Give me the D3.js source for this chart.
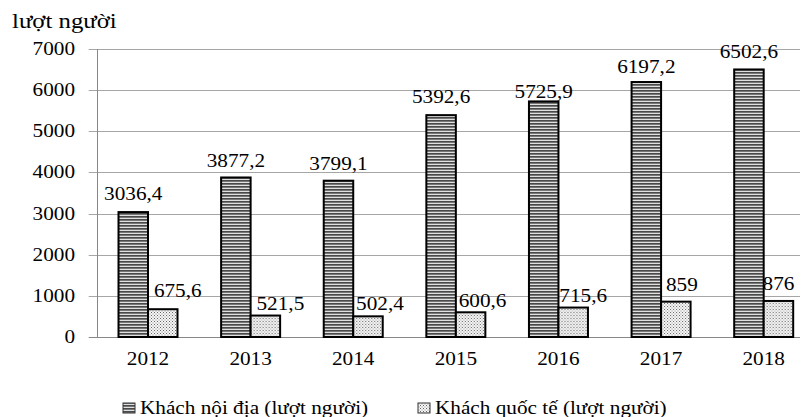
<!DOCTYPE html>
<html>
<head>
<meta charset="utf-8">
<script src="https://cdn.jsdelivr.net/npm/d3@7"></script>
<style>
  body { margin: 0; background: #fff; }
  svg { display: block; font-family: "Liberation Serif", "Times New Roman", serif; }
</style>
</head>
<body>
<div id="viscontainer"></div>
<script>
const years = ["2012", "2013", "2014", "2015", "2016", "2017", "2018"];
const domestic = [3036.4, 3877.2, 3799.1, 5392.6, 5725.9, 6197.2, 6502.6];
const international = [675.6, 521.5, 502.4, 600.6, 715.6, 859, 876];
const yTicks = [0, 1000, 2000, 3000, 4000, 5000, 6000, 7000];
const seriesNames = ["Khách nội địa (lượt người)", "Khách quốc tế (lượt người)"];
const yTitle = "lượt người";

// label nudges as placed in the original (px)
const domLabelGap = [12, 10.5, 10.7, 12, 3.5, 9, 11.5];
const intLabelGap = [12, 5.5, 6, 5, 5.5, 10.7, 11];
const intLabelDx = [15, 15, 12, 12, 10, 6, 0];

const width = 805;
const height = 417;
const marginLeft = 96.7;
const plotRight = 815;
const marginTop = 49;
const baseY = 337;
const fontSize = 18;
const stretch = 1.18;

const fmt = (v) => String(v).replace(".", ",");

const svg = d3.create("svg").attr("width", width).attr("height", height);
viscontainer.append(svg.node());

const defs = svg.append("defs");
const stripes = defs.append("pattern").attr("id", "stripes")
  .attr("patternUnits", "userSpaceOnUse").attr("width", 4).attr("height", 3);
stripes.append("rect").attr("width", 4).attr("height", 3).attr("fill", "#e0e0e0");
stripes.append("rect").attr("width", 4).attr("height", 1.7).attr("fill", "#4a4a4a");

const dots = defs.append("pattern").attr("id", "dots")
  .attr("patternUnits", "userSpaceOnUse").attr("width", 3).attr("height", 3);
dots.append("rect").attr("width", 3).attr("height", 3).attr("fill", "#f6f6f6");
dots.append("rect").attr("width", 1).attr("height", 1).attr("fill", "#666");
dots.append("rect").attr("x", 1.5).attr("y", 1.5).attr("width", 1).attr("height", 1).attr("fill", "#888");

const fills = ["url(#stripes)", "url(#dots)"];

const xScale = d3.scaleBand().domain(years).range([marginLeft, plotRight]);
const xInner = d3.scaleBand().domain([0, 1]).range([-29.5, 29.5]);
const yScale = d3.scaleLinear().domain([0, 7000]).range([baseY, marginTop]);

const addText = (g, x, y, str, anchor, size = fontSize, sx = stretch) =>
  g.append("text")
    .attr("transform", `translate(${x},${y}) scale(${sx},1)`)
    .attr("text-anchor", anchor)
    .attr("font-size", size)
    .attr("fill", "#000")
    .text(str);

// gridlines + y ticks
const grid = svg.append("g");
grid.selectAll("line").data(yTicks).join("line")
  .attr("x1", marginLeft - 8).attr("x2", 800)
  .attr("y1", (d) => Math.round(yScale(d)) + 0.5)
  .attr("y2", (d) => Math.round(yScale(d)) + 0.5)
  .attr("stroke", (d) => (d === 0 ? "#888" : "#a6a6a6"))
  .attr("stroke-width", 1);

svg.append("line")
  .attr("x1", Math.round(marginLeft) + 0.5).attr("x2", Math.round(marginLeft) + 0.5)
  .attr("y1", yScale(7000)).attr("y2", baseY)
  .attr("stroke", "#888");

const yLabels = svg.append("g");
yTicks.forEach((t) => addText(yLabels, 75, yScale(t) + 6, String(t), "end"));

addText(svg, 12, 28, yTitle, "start", 20, 1.24);

// bars
const groups = svg.append("g").selectAll("g").data(years).join("g")
  .attr("transform", (d) => `translate(${xScale(d) + xScale.bandwidth() / 2},0)`);

[domestic, international].forEach((vals, s) => {
  groups.append("rect")
    .attr("x", xInner(s))
    .attr("width", xInner.bandwidth())
    .attr("y", (d, i) => yScale(vals[i]))
    .attr("height", (d, i) => baseY - yScale(vals[i]))
    .attr("fill", fills[s])
    .attr("stroke", "#000")
    .attr("stroke-width", 2);
});

// value labels
const labels = svg.append("g");
years.forEach((yr, i) => {
  const cx = xScale(yr) + xScale.bandwidth() / 2;
  addText(labels, cx + xInner(0) + xInner.bandwidth() / 2,
    yScale(domestic[i]) - domLabelGap[i], fmt(domestic[i]), "middle");
  addText(labels, cx + xInner(1) + xInner.bandwidth() / 2 + intLabelDx[i],
    yScale(international[i]) - intLabelGap[i], fmt(international[i]), "middle");
});

// x labels
const xLabels = svg.append("g");
years.forEach((yr) => addText(xLabels, xScale(yr) + xScale.bandwidth() / 2, 365, yr, "middle"));

// legend
const legendX = [123, 418];
const legend = svg.append("g");
seriesNames.forEach((name, s) => {
  legend.append("rect")
    .attr("x", legendX[s]).attr("y", 403)
    .attr("width", 12).attr("height", 10)
    .attr("fill", fills[s]).attr("stroke", "#333").attr("stroke-width", 1);
  addText(legend, legendX[s] + 17, 414, name, "start");
});
</script>
</body>
</html>
